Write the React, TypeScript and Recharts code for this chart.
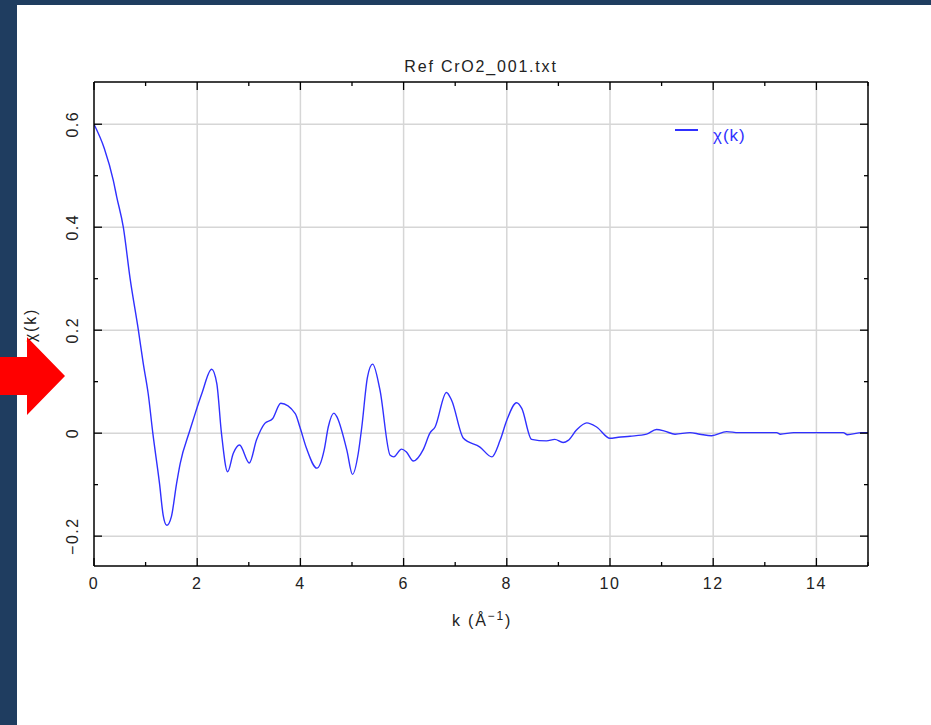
import React from 'react'
import { LineChart, Line, XAxis, YAxis, ReferenceLine } from 'recharts'

// chi(k), [k, chi]
const kValues = [
  0, 0.2, 0.374, 0.44, 0.568, 0.7, 0.86, 0.955, 1.05, 1.14, 1.27, 1.34, 1.41, 1.5, 1.6, 1.67, 1.86, 1.96,
  2.09, 2.28, 2.38, 2.47, 2.59, 2.7, 2.82, 3.01, 3.15, 3.31, 3.46, 3.62, 3.9, 3.99, 4.12, 4.32, 4.46, 4.54,
  4.65, 4.7, 4.9, 5.01, 5.12, 5.19, 5.3, 5.4, 5.54, 5.74, 5.81, 5.96, 6.05, 6.19, 6.38, 6.51, 6.61, 6.83,
  6.93, 7.16, 7.48, 7.71, 7.87, 8.0, 8.19, 8.29, 8.48, 8.77, 8.93, 9.09, 9.19, 9.35, 9.55, 9.74, 10.0,
  10.16, 10.39, 10.71, 10.9, 11.06, 11.26, 11.55, 11.74, 11.97, 12.26, 12.49, 13.23, 13.3, 13.56, 14.52,
  14.6, 14.88, 15,
]
const chiValues = [
  0.6, 0.553, 0.491, 0.459, 0.4, 0.3, 0.2, 0.135, 0.077, 0.0, -0.098, -0.159, -0.179, -0.162, -0.098,
  -0.059, 0.006, 0.038, 0.077, 0.124, 0.096, 0.0, -0.075, -0.039, -0.023, -0.058, -0.013, 0.019, 0.028,
  0.058, 0.038, 0.012, -0.03, -0.068, -0.033, 0.012, 0.039, 0.033, -0.033, -0.08, -0.04, 0.012, 0.109,
  0.134, 0.085, -0.043, -0.046, -0.031, -0.036, -0.054, -0.032, 0.0, 0.012, 0.079, 0.064, -0.01, -0.027,
  -0.046, -0.014, 0.025, 0.059, 0.048, -0.012, -0.015, -0.012, -0.018, -0.014, 0.006, 0.02, 0.012, -0.01,
  -0.008, -0.006, -0.002, 0.007, 0.004, -0.002, 0.001, -0.002, -0.005, 0.003, 0.001, 0.001, -0.002, 0.001,
  0.001, -0.003, 0.001, 0.001,
]

const xTicks = [0, 1, 2, 3, 4, 5, 6, 7, 8, 9, 10, 11, 12, 13, 14, 15]
const yTicks = [-0.2, -0.1, 0, 0.1, 0.2, 0.3, 0.4, 0.5, 0.6]
const xGrid = [2, 4, 6, 8, 10, 12, 14]
const yGrid = [-0.2, 0, 0.2, 0.4, 0.6]

const data = kValues.map((k, i) => ({ k, chi: chiValues[i] }))

const FONT = '"Liberation Sans", Arial, sans-serif'
const INK = '#222'
const BLUE = '#3030ff'

const isMajorX = (v: number) => v % 2 === 0
const isMajorY = (v: number) => Math.round(v * 10) % 2 === 0
const fmtY = (v: number) => {
  const r = Math.round(v * 10) / 10
  if (r === 0) return '0'
  return r < 0 ? '\u2212' + Math.abs(r).toFixed(1) : r.toFixed(1)
}

const tickText = { fontFamily: FONT, fontSize: 16, letterSpacing: 1.5 }

const BottomTick = (props: any) => {
  const { x, y, payload } = props
  const major = isMajorX(payload.value)
  return (
    <g>
      <line x1={x} x2={x} y1={y} y2={y - (major ? 8 : 4)} stroke="#000" strokeWidth={1.3} />
      {major && (
        <text x={x} y={y + 17} textAnchor="middle" dominantBaseline="central" fill={INK} style={tickText}>
          {payload.value}
        </text>
      )}
    </g>
  )
}

const TopTick = (props: any) => {
  const { x, y, payload } = props
  const major = isMajorX(payload.value)
  return <line x1={x} x2={x} y1={y} y2={y + (major ? 8 : 4)} stroke="#000" strokeWidth={1.3} />
}

const LeftTick = (props: any) => {
  const { x, y, payload } = props
  const major = isMajorY(payload.value)
  return (
    <g>
      <line x1={x} x2={x + (major ? 8 : 4)} y1={y} y2={y} stroke="#000" strokeWidth={1.3} />
      {major && (
        <text x={x - 21} y={y} textAnchor="middle" dominantBaseline="central" fill={INK}
          transform={`rotate(-90, ${x - 21}, ${y})`} style={tickText}>
          {fmtY(payload.value)}
        </text>
      )}
    </g>
  )
}

const RightTick = (props: any) => {
  const { x, y, payload } = props
  const major = isMajorY(payload.value)
  return <line x1={x} x2={x - (major ? 8 : 4)} y1={y} y2={y} stroke="#000" strokeWidth={1.3} />
}

const label = (extra: React.CSSProperties): React.CSSProperties => ({
  position: 'absolute',
  fontFamily: FONT,
  fontSize: 16,
  letterSpacing: 1.8,
  color: INK,
  whiteSpace: 'nowrap',
  ...extra,
})

export default function App() {
  const axisLine = { stroke: '#000', strokeWidth: 1.5 }
  return (
    <div style={{ position: 'absolute', left: 0, top: 0, width: 931, height: 725, background: '#1f3d60', overflow: 'hidden' }}>
      <div style={{ position: 'absolute', left: 17, top: 5, width: 914, height: 720, background: '#fff' }} />

      <div style={{ position: 'absolute', left: 0, top: 0 }}>
        <LineChart width={931} height={725} data={data} margin={{ top: 72, right: 53, bottom: 129, left: 54 }}>
          <XAxis dataKey="k" type="number" domain={[0, 15]} ticks={xTicks} interval={0} allowDataOverflow
            height={30} tickSize={0} tickMargin={0} tickLine={false} axisLine={axisLine} tick={<BottomTick />} />
          <XAxis xAxisId="top" dataKey="k" orientation="top" type="number" domain={[0, 15]} ticks={xTicks}
            interval={0} allowDataOverflow height={10} tickSize={0} tickMargin={0} tickLine={false}
            axisLine={axisLine} tick={<TopTick />} />
          <YAxis type="number" domain={[-0.258, 0.682]} ticks={yTicks} interval={0} allowDataOverflow
            width={40} tickSize={0} tickMargin={0} tickLine={false} axisLine={axisLine} tick={<LeftTick />} />
          <YAxis yAxisId="right" orientation="right" type="number" domain={[-0.258, 0.682]} ticks={yTicks}
            interval={0} allowDataOverflow width={10} tickSize={0} tickMargin={0} tickLine={false}
            axisLine={axisLine} tick={<RightTick />} />

          {xGrid.map((v) => (
            <ReferenceLine key={'gx' + v} x={v} stroke="#d6d6d6" strokeWidth={1.5} />
          ))}
          {yGrid.map((v) => (
            <ReferenceLine key={'gy' + v} y={v} stroke="#d6d6d6" strokeWidth={1.5} />
          ))}

          <Line type="monotone" dataKey="chi" stroke={BLUE} strokeWidth={1.4} dot={false} isAnimationActive={false} />
        </LineChart>
      </div>

      <div style={label({ left: 0, width: 962, top: 58, textAlign: 'center' })}>Ref CrO2_001.txt</div>
      <div style={label({ left: 0, width: 964, top: 609, textAlign: 'center' })}>
        k (Å<sup style={{ fontSize: 12 }}>−1</sup>)
      </div>
      <div style={label({ left: 31, top: 325, transform: 'translate(-50%, -50%) rotate(-90deg)' })}>χ(k)</div>

      <div style={{ position: 'absolute', left: 675, top: 129, width: 23, height: 1.5, background: BLUE }} />
      <div style={label({ left: 713, top: 126, color: BLUE, fontSize: 17, letterSpacing: 1 })}>χ(k)</div>

      <svg width={70} height={90} style={{ position: 'absolute', left: 0, top: 332 }}>
        <polygon points="0,25 27,25 27,5 65,44 27,83 27,63 0,63" fill="#ff0000" />
      </svg>
    </div>
  )
}
